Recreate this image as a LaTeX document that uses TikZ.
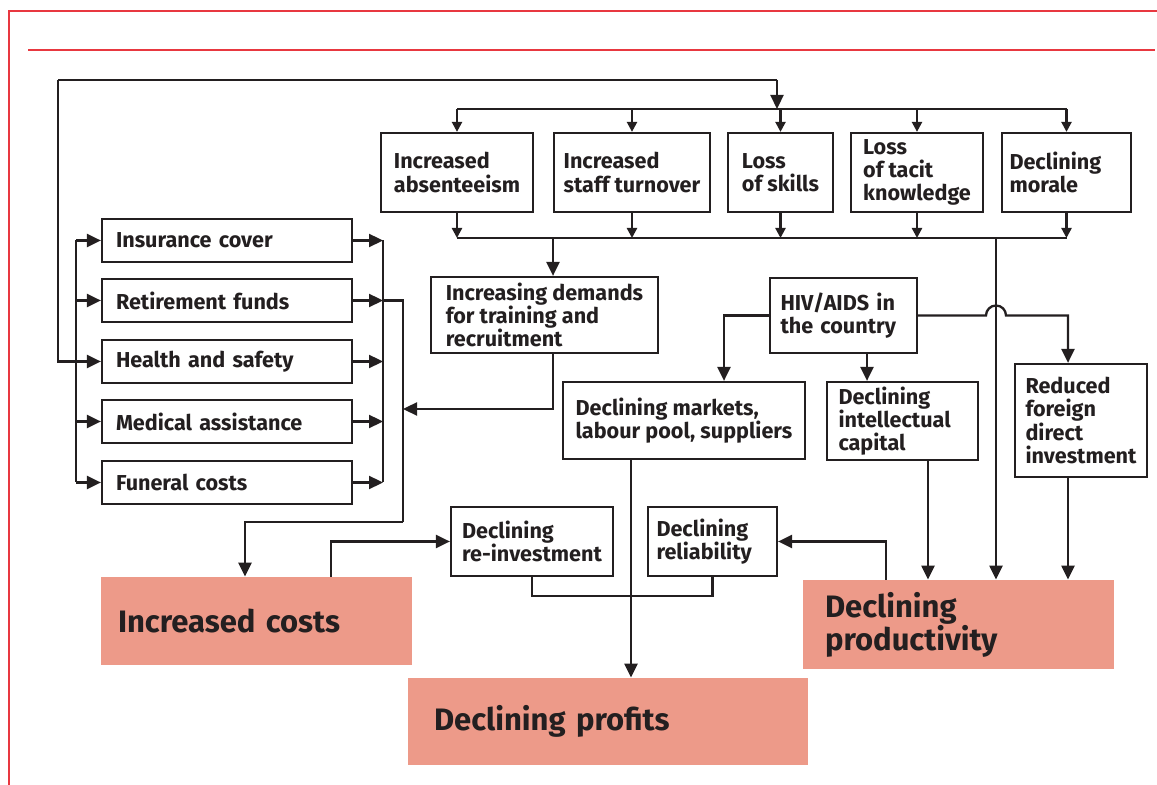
\documentclass[tikz,border=0pt]{standalone}
\usepackage{fontspec}
\setmainfont{Fira Sans}
\usetikzlibrary{arrows.meta}
\definecolor{ink}{HTML}{231F20}
\definecolor{frame}{RGB}{232,56,64}
\definecolor{pinkfill}{RGB}{237,154,137}
\tikzset{
  ln/.style={draw=ink, line width=1.15pt},
  arr/.style={ln, -{Triangle[length=7pt,width=6.5pt]}},
  sarr/.style={ln, -{Triangle[length=5pt,width=5pt]}},
  box/.style={draw=ink, line width=1.1pt, fill=white, text=ink, align=left,
    inner xsep=5pt, inner ysep=0pt, font=\bfseries\fontsize{10.8}{11.6}\selectfont},
  pbox/.style={fill=pinkfill, text=ink, align=left, inner ysep=0pt,
    font=\bfseries\fontsize{15.5}{16.5}\selectfont},
}
\begin{document}
\begin{tikzpicture}[x=0.5pt,y=-0.5pt]
\useasboundingbox (0,0) rectangle (1157,785);
% frame
\draw[frame, line width=1pt] (9,785) -- (9,11) -- (1157,11);
\draw[frame, line width=1.1pt] (28,50) -- (1155,50);

% top row
\node[box, minimum width=76pt, minimum height=39.5pt] (abs) at (457,172.5) {Increased\\absenteeism};
\node[box, minimum width=78pt, minimum height=39.5pt] (tur) at (632,172.5) {Increased\\staff turnover};
\node[box, minimum width=52.5pt, minimum height=39.5pt] (ski) at (780.5,172.5) {Loss\\of skills};
\node[box, minimum width=66pt, minimum height=39.5pt] (tac) at (917,172.5) {Loss\\of tacit\\knowledge};
\node[box, minimum width=64.5pt, minimum height=39.5pt, text width=57pt, inner xsep=3.75pt] (mor) at (1066.5,172.5) {Declining\\morale};

% left stack
\tikzset{lbox/.style={box, minimum width=125pt, minimum height=21.5pt, text width=111pt, inner xsep=7pt}}
\node[lbox] (ins) at (227,240.5) {Insurance cover};
\node[lbox] (ret) at (227,300.5) {Retirement funds};
\node[lbox] (hs)  at (227,361.5) {Health and safety};
\node[lbox] (med) at (227,421.5) {Medical assistance};
\node[lbox] (fun) at (227,482.5) {Funeral costs};

% middle
\node[box, minimum width=113.5pt, minimum height=38pt] (dem) at (544.5,315) {Increasing demands\\for training and\\recruitment};
\node[box, minimum width=73.5pt, minimum height=37.5pt, text width=63pt] (hiv) at (843.5,315.5) {HIV/AIDS in\\the country};
\node[box, minimum width=121pt, minimum height=38.5pt] (mkt) at (684,420.5) {Declining markets,\\labour pool, suppliers};
\node[box, minimum width=75.5pt, minimum height=39pt, text width=64pt, inner xsep=5.75pt] (ic) at (902.5,421) {Declining\\intellectual\\capital};
\node[box, minimum width=66pt, minimum height=56.5pt] (fdi) at (1081,420.5) {Reduced\\foreign\\direct\\investment};
\node[box, minimum width=81pt, minimum height=34.5pt] (rei) at (532,541.5) {Declining\\re-investment};
\node[box, minimum width=64.5pt, minimum height=34.5pt, text width=56pt, inner xsep=4pt] (rel) at (712.5,541.5) {Declining\\reliability};

% outcomes
\node[pbox, minimum width=155.5pt, minimum height=44pt, text width=138.5pt, inner xsep=8.5pt] (cost) at (256.5,621) {Increased costs};
\node[pbox, minimum width=200pt, minimum height=43.5pt, text width=174pt, inner xsep=13pt] (prof) at (608,721.5) {Declining profits};
\node[pbox, minimum width=155.5pt, minimum height=44.5pt, text width=133.5pt, inner xsep=11pt] (prod) at (958.5,624.5) {Declining\\productivity};

% helper coordinates
\coordinate (tl) at (58,80);
\coordinate (td) at (777,80);
\coordinate (dy) at (0,109);
\coordinate (cy) at (0,238);
\coordinate (lbx) at (76,0);
\coordinate (rbx) at (383,0);
\coordinate (ob) at (403,522);
\coordinate (cc) at (245,522);
\coordinate (dm) at (403,409);
\coordinate (dx) at (553,238);
\coordinate (vx) at (996,238);
\coordinate (mx) at (724,0);
\coordinate (hx) at (867,0);
\coordinate (ix) at (928,0);
\coordinate (fx) at (1068,0);
\coordinate (px) at (886,0);
\coordinate (cx) at (331,0);
\coordinate (kx) at (631,0);
\coordinate (jy) at (0,596);

% top loop
\draw[ln] (tl) -- (td);
\draw[arr] (td) -- (td |- dy);
\draw[arr] (tl) |- (hs.west);

% distribution line and arrows into top row
\draw[ln] (abs.north |- dy) -- (mor.north |- dy);
\foreach \n in {abs,tur,ski,tac,mor} {
  \draw[sarr] (\n.north |- dy) -- (\n.north);
  \draw[sarr] (\n.south) -- (\n.south |- cy);
}
\draw[ln] (abs.south |- cy) -- (mor.south |- cy);

% collector to demands
\draw[arr] (dx) -- (dx |- dem.north);
\draw[arr] (dx |- dem.south) |- (dm);

% left bus
\draw[ln] (ins.west -| lbx) -- (fun.west -| lbx);
\foreach \n in {ins,ret,med,fun} {
  \draw[arr] (\n.west -| lbx) -- (\n.west);
}
% right bus
\draw[ln] (ins.east -| rbx) -- (fun.east -| rbx);
\foreach \n in {ins,ret,hs,med,fun} {
  \draw[arr] (\n.east) -- (\n.east -| rbx);
}
\draw[ln] (ret.east -| rbx) -| (ob);
\draw[arr] (ob) -- (cc) -- (cc |- cost.north);

% HIV connections
\draw[arr] (hiv.west) -| (mx |- mkt.north);
\draw[arr] (hx |- hiv.south) -- (hx |- ic.north);
\draw[arr] (hiv.east) -- ([xshift=-5pt]vx |- hiv.east) arc[start angle=180, end angle=0, radius=5pt] -- (fx |- hiv.east) -- (fx |- fdi.north);

% vertical from collector to productivity
\draw[arr] (vx) -- (vx |- prod.north);
\draw[arr] (ix |- ic.south) -- (ix |- prod.north);
\draw[arr] (fx |- fdi.south) -- (fx |- prod.north);

% bottom connections
\draw[arr] (px |- prod.north) |- (rel.east);
\draw[arr] (cx |- cost.north) |- (rei.west);
\draw[ln] (rei.south) |- (rel.south |- jy) -- (rel.south);
\draw[arr] (kx |- mkt.south) -- (kx |- prof.north);
\end{tikzpicture}
\end{document}
